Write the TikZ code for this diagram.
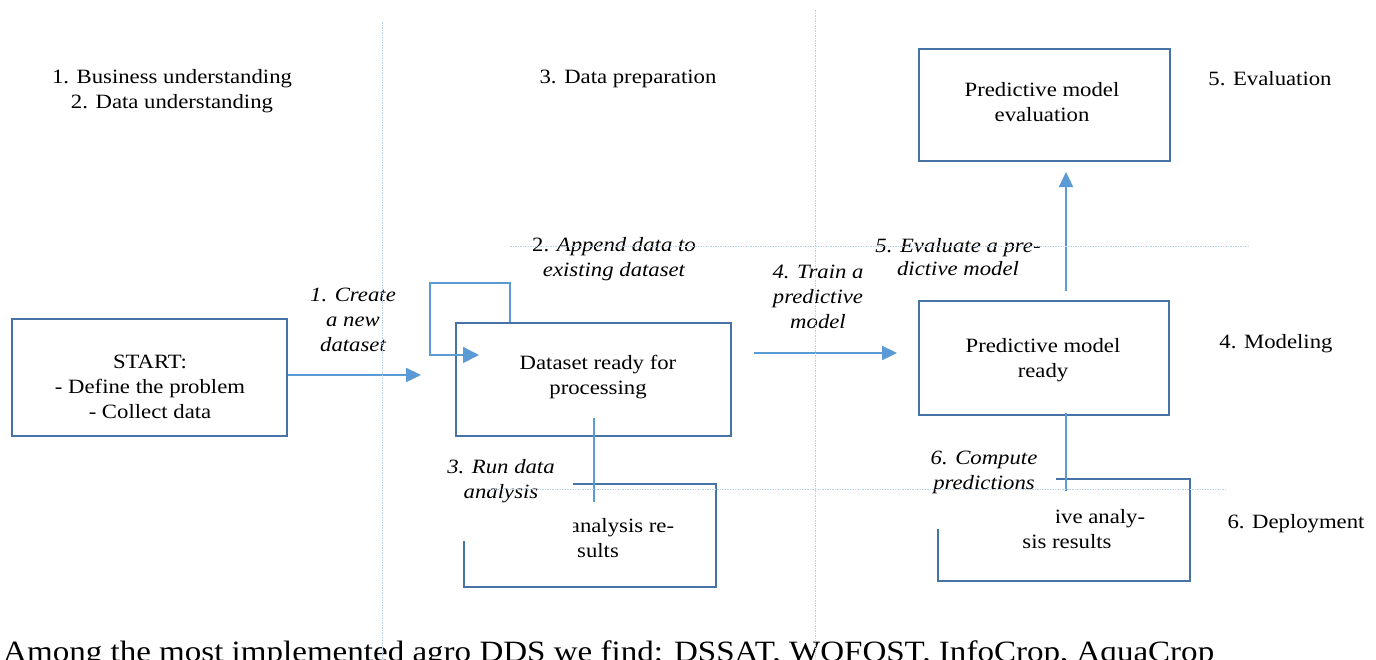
\documentclass[tikz,border=0pt]{standalone}
\usepackage{fontspec}
\setmainfont{Liberation Serif}[FakeStretch=1.12]
\usetikzlibrary{arrows.meta}
\definecolor{boxblue}{RGB}{70,114,166}
\definecolor{flowblue}{RGB}{91,155,213}
\definecolor{guideblue}{RGB}{185,210,235}

\begin{document}
\begin{tikzpicture}[x=1pt,y=-1pt,
  txt/.style={font=\fontsize{20.3}{25}\selectfont, inner sep=0pt, align=center},
  steplabel/.style={txt, font=\fontsize{20.3}{25}\selectfont\itshape},
  stagebox/.style={draw=boxblue, line width=2.8pt, inner sep=0pt},
  flow/.style={draw=flowblue, line width=2.3pt, -{Triangle[length=15pt,width=14pt]}},
  loopflow/.style={draw=flowblue, line width=1.5pt, -{Triangle[length=16pt,width=16pt]}},
  link/.style={draw=flowblue, line width=2.3pt},
  guide/.style={draw=guideblue, line width=0.8pt, dash pattern=on 1.5pt off 1pt},
  mask/.style={fill=white}
]
\useasboundingbox (0,0) rectangle (1376,659);
\clip (0,0) rectangle (1376,659);

% stage headings
\node[txt] (hBU)  at (172,91)  {1. Business understanding\\2. Data understanding};
\node[txt] (hDP)  at (628,79)  {3. Data preparation};
\node[txt] (hEV)  at (1270,79) {5. Evaluation};
\node[txt] (hMO)  at (1276,344){4. Modeling};
\node[txt] (hDE)  at (1296,524){6. Deployment};

% process boxes
\node[stagebox, minimum width=275pt, minimum height=117pt] (start) at (149.5,377.5) {};
\node[stagebox, minimum width=275pt, minimum height=113pt] (data)  at (593.5,379.5) {};
\node[stagebox, minimum width=250pt, minimum height=114pt] (ready) at (1044,358) {};
\node[stagebox, minimum width=251pt, minimum height=112pt] (evalb) at (1044.5,105) {};
\node[stagebox, minimum width=252pt, minimum height=103pt] (res1)  at (590,535.5) {};
\node[stagebox, minimum width=252pt, minimum height=102pt] (res2)  at (1064,530) {};

% box texts
\node[txt] (startT) at (150,387)   {START:\\- Define the problem\\- Collect data};
\node[txt] (dataT)  at (598,377.5) {Dataset ready for\\processing};
\node[txt] (readyT) at (1043,360.5){Predictive model\\ready};
\node[txt] (evalT)  at (1042,102)  {Predictive model\\evaluation};
\node[txt] (res1T)  at (622,538)   {analysis re-\\sults\hspace*{48pt}};
\node[txt] (res2T)  at (1100,529.5){ive analy-\\sis results\hspace*{66pt}};

% white label backgrounds over the result boxes
\fill[mask] (440,448) rectangle (573,541);
\fill[mask] (925,443) rectangle (1056,529);

% connector end points
\coordinate (c1)  at (421,375);
\coordinate (lp1) at (510,283);
\coordinate (lp0) at (430,355);
\coordinate (lp2) at (479,355);
\coordinate (tr0) at (754,353);
\coordinate (tr1) at (897,353);
\coordinate (ev0) at (1066,291);
\coordinate (ev1) at (1066,172);
\coordinate (ru0) at (594,418);
\coordinate (ru1) at (594,502);
\coordinate (cp0) at (1066,413);
\coordinate (cp1) at (1066,491);

% connectors
\draw[flow] (start.east |- c1) -- (c1);
\draw[loopflow] (lp1 |- data.north) -- (lp1) -| (lp0) -- (lp2);
\draw[flow] (tr0) -- (tr1);
\draw[flow] (ev0) -- (ev1);
\draw[link] (ru0) -- (ru1);
\draw[link] (cp0) -- (cp1);

% step labels
\node[steplabel] (lCreate)  at (353,320) {1. Create\\a new\\dataset};
\node[steplabel] (lAppend)  at (614,259) {{\upshape 2.} Append data to\\existing dataset};
\node[steplabel] (lTrain)   at (818,297) {4. Train a\\predictive\\model};
\node[steplabel] (lEval)    at (958,257) {5. Evaluate a pre-\\[-2pt]dictive model};
\node[steplabel] (lRun)     at (501,481) {3. Run data\\analysis};
\node[steplabel] (lCompute) at (984,472) {6. Compute\\predictions};

% text running on below the figure
\node[font=\fontsize{29.5}{34}\selectfont, inner sep=0pt, anchor=base west] (note) at (3,661)
  {Among the most implemented agro DDS we find: DSSAT, WOFOST, InfoCrop, AquaCrop};

% faint layout guides
\draw[guide] (382,22) -- (382,659);
\draw[guide] (815,10) -- (815,659);
\draw[guide] (510,246) -- (1250,246);
\draw[guide] (487,489) -- (1226,489);
\end{tikzpicture}
\end{document}
